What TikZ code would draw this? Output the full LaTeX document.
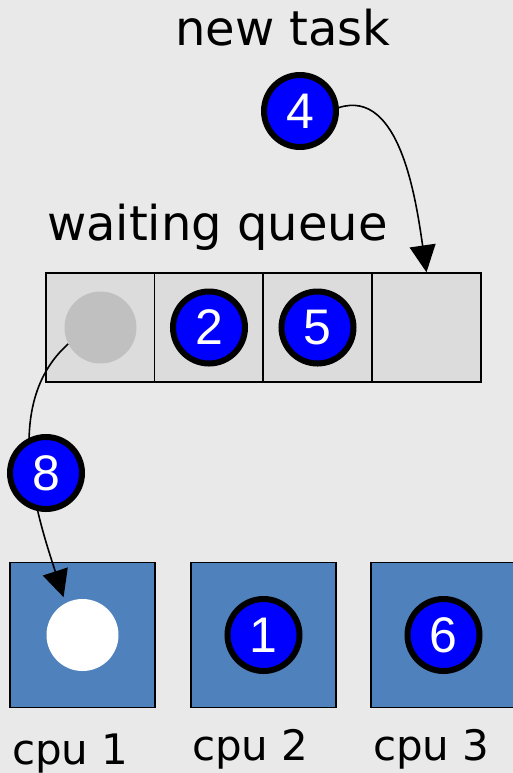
\documentclass[tikz,border=0pt]{standalone}
\usepackage{fontspec}
\setmainfont{DejaVu Sans}
\newfontfamily\ballfont{Liberation Sans}
\usetikzlibrary{arrows.meta}

\definecolor{bggray}{HTML}{E9E9E9}
\definecolor{cellgray}{HTML}{DCDCDC}
\definecolor{emptyball}{HTML}{C0C0C0}
\definecolor{cpublue}{HTML}{4F81BD}

\tikzset{
    task/.style={circle, draw=black, line width=3pt, fill=blue, minimum size=36pt,
        inner sep=0pt, text=white, font=\ballfont\fontsize{25}{25}\selectfont},
    slot/.style={circle, minimum size=36pt, inner sep=0pt},
    cell/.style={draw=black, line width=0.7pt, fill=cellgray, minimum size=54.5pt, inner sep=0pt},
    cpu/.style={draw=black, line width=0.7pt, fill=cpublue, minimum size=72.5pt, inner sep=0pt},
    title/.style={anchor=base west, font=\fontsize{24}{24}\selectfont},
    cpulabel/.style={anchor=base west, font=\fontsize{21}{21}\selectfont},
    move/.style={line width=0.8pt, -{Triangle[length=13.5pt,width=13pt]}}
}

\begin{document}
\begin{tikzpicture}[x=0.5pt, y=-0.5pt]
    % Background
    \useasboundingbox (0,0) rectangle (513,773);
    \fill[bggray] (0,0) rectangle (513,773);

    % Titles
    \node[title] (newtitle) at (168,45) {new task};
    \node[title] (queuetitle) at (40,240) {waiting queue};

    % Waiting queue cells
    \foreach \i/\x in {1/100.5, 2/209, 3/317.5, 4/426.5} {
        \node[cell] (q\i) at (\x,327.5) {};
    }
    \node[slot, fill=emptyball] (gone) at (q1) {};
    \node[task] (t2) at (q2) {2};
    \node[task] (t5) at (q3) {5};

    % CPUs
    \foreach \i/\x in {1/82.5, 2/263.5, 3/443.5} {
        \node[cpu] (c\i) at (\x,635) {};
    }
    \node[slot, fill=white] (freed) at (c1) {};
    \node[task] (t1) at (c2) {1};
    \node[task] (t6) at (c3) {6};

    \node[cpulabel] (l1) at (5,764) {cpu 1};
    \node[cpulabel] (l2) at (185,760) {cpu 2};
    \node[cpulabel] (l3) at (366,760) {cpu 3};

    % New task enters the queue
    \node[task] (t4) at (300,111) {4};
    \draw[move] (t4.5) .. controls (400,88) and (416,200) .. (q4.north);

    % Head of the queue goes to the free cpu
    \draw[move, shorten >=3pt] (gone.207) .. controls (0,405) and (38,518) .. (freed.118);
    \node[task] (t8) at (46,473) {8};
\end{tikzpicture}
\end{document}
